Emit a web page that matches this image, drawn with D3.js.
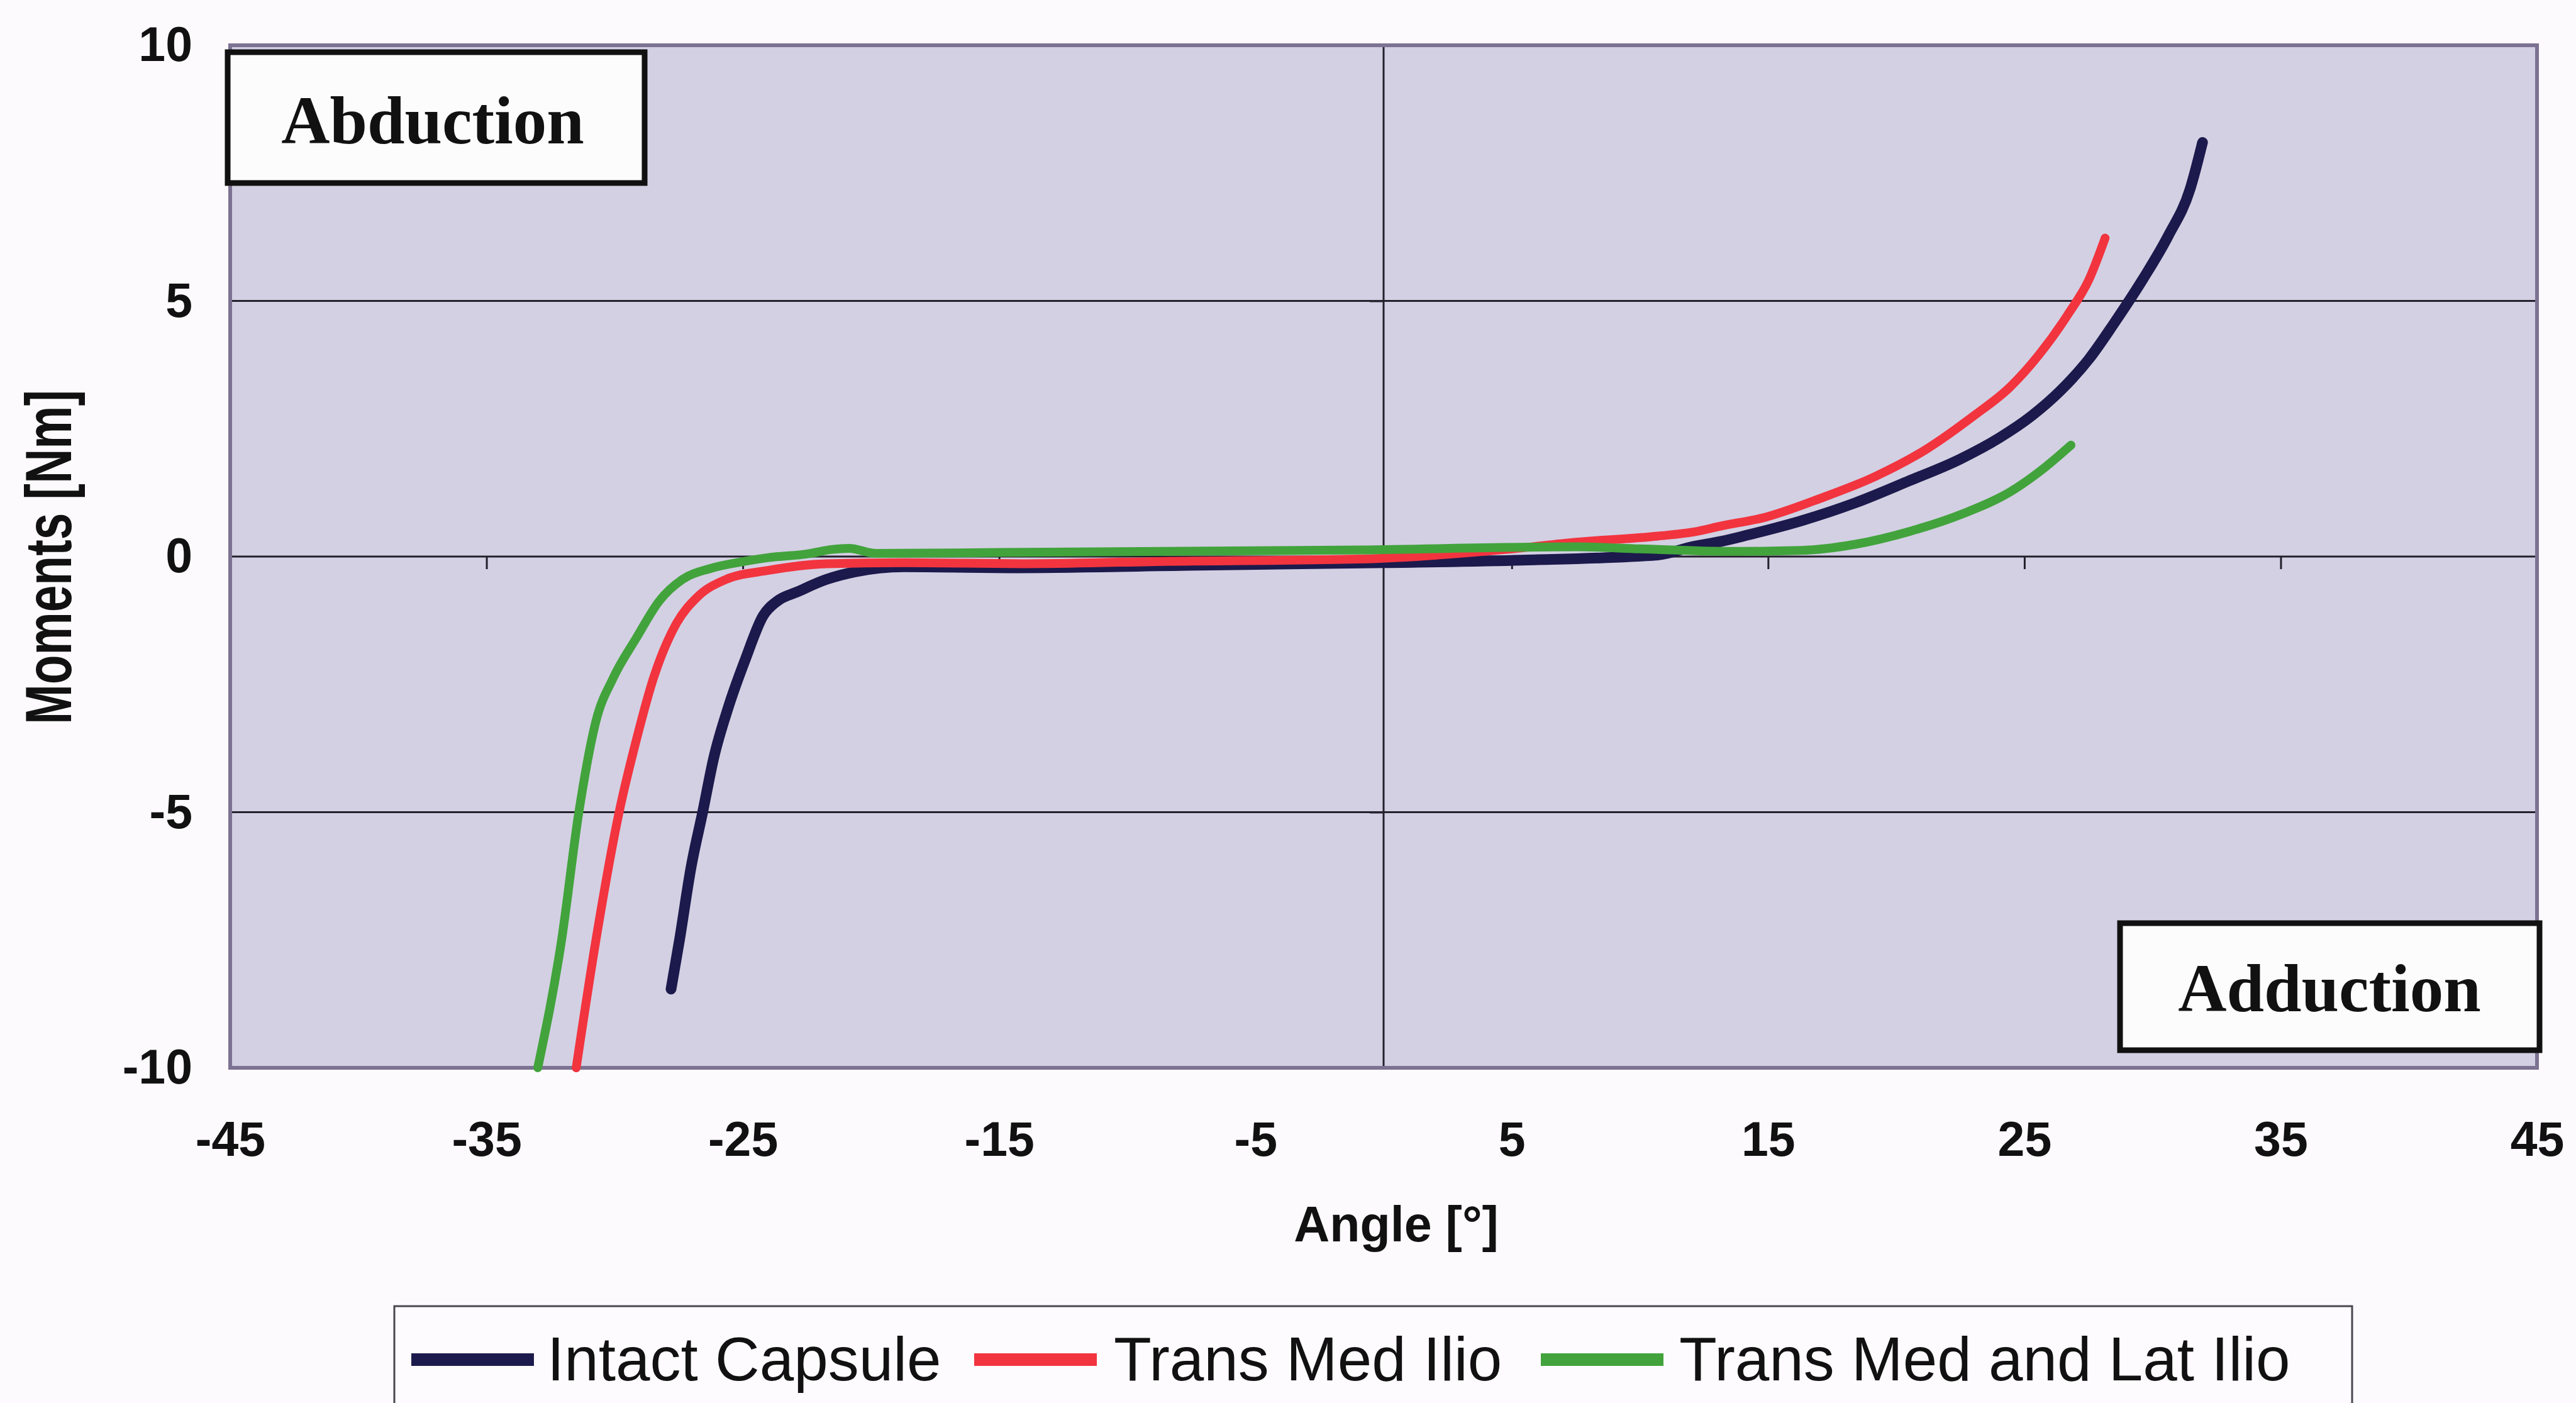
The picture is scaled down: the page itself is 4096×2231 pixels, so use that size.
<!DOCTYPE html>
<html>
<head>
<meta charset="utf-8">
<script src="https://cdn.jsdelivr.net/npm/d3@7"></script>
<style>
  html, body { margin: 0; padding: 0; background: #fcfafc; }
  svg { display: block; }
</style>
</head>
<body>
<svg id="chart" width="4096" height="2231"></svg>
<script>
// Angle [°] vs. moment [Nm] for the three capsule conditions
const intactCapsule = [
  [-27.8, -8.46], [-27.47, -7.5], [-27.02, -6.08], [-26.57, -5.01], [-26.13, -3.93],
  [-25.56, -2.94], [-24.9, -2.01], [-24.21, -1.16], [-23.65, -0.87], [-22.87, -0.69],
  [-21.75, -0.45], [-20.63, -0.3], [-18.7, -0.2], [-14.6, -0.22], [-7.2, -0.17],
  [0, -0.12], [5.4, -0.07], [10.7, 0.03], [12.1, 0.2], [13.2, 0.3], [14.2, 0.42],
  [16.3, 0.7], [18.4, 1.05], [20.5, 1.48], [22.47, 1.9], [24.02, 2.32], [25.28, 2.75],
  [26.4, 3.24], [27.53, 3.87], [28.51, 4.57], [29.63, 5.43], [30.61, 6.27],
  [31.46, 7.18], [31.95, 8.1]
];
const transMedIlio = [
  [-31.5, -10], [-30.73, -7.5], [-29.83, -5.01], [-29.15, -3.58], [-28.48, -2.37],
  [-27.58, -1.3], [-26.79, -0.8], [-25.67, -0.45], [-23.99, -0.27], [-21.75, -0.14],
  [-18.7, -0.12], [-14, -0.14], [-9.1, -0.1], [-1, -0.05], [5, 0.15], [7.5, 0.28],
  [10.7, 0.4], [12.1, 0.48], [13.2, 0.6], [14.9, 0.77], [17.0, 1.13], [19.11, 1.55],
  [21.21, 2.11], [23.02, 2.75], [24.43, 3.31], [25.56, 3.94], [26.68, 4.72],
  [27.53, 5.43], [28.15, 6.23]
];
const transMedLatIlio = [
  [-33.0, -10], [-32.07, -7.5], [-31.4, -5.01], [-30.73, -3.22], [-30.05, -2.37],
  [-29.15, -1.59], [-28.26, -0.87], [-27.36, -0.45], [-26.24, -0.23], [-25, -0.1],
  [-23.99, -0.02], [-22.5, 0.05], [-21.5, 0.14], [-20.85, 0.16], [-19.8, 0.06],
  [-15, 0.08], [-0.9, 0.13], [7.55, 0.19], [10, 0.15], [13.5, 0.1], [16.29, 0.12],
  [18.4, 0.24], [20.51, 0.49], [22.61, 0.84], [24.43, 1.26], [25.84, 1.76], [26.82, 2.18]
];

const seriesNames = ["Intact Capsule", "Trans Med Ilio", "Trans Med and Lat Ilio"];
const seriesColors = ["#1c1a4c", "#f2343f", "#42a33c"];
const seriesWidths = [17, 14, 14];
const seriesData = [intactCapsule, transMedIlio, transMedLatIlio];

const xTicks = [-45, -35, -25, -15, -5, 5, 15, 25, 35, 45];
const yTicks = [-10, -5, 0, 5, 10];
const gridY = [-5, 0, 5];
const gridX = [0];

const plot = { left: 366, right: 4034, top: 72, bottom: 1698 };

const svg = d3.select("#chart");
const x = d3.scaleLinear().domain([-45, 45]).range([plot.left, plot.right]);
const y = d3.scaleLinear().domain([-10, 10]).range([plot.bottom, plot.top]);

const font = "'Liberation Sans', Arial, sans-serif";
const serif = "'Liberation Serif', 'Times New Roman', serif";
// plain hyphen-minus for negative tick values
const plainNumber = d => String(d);

// plot area
svg.append("rect")
  .attr("x", plot.left).attr("y", plot.top)
  .attr("width", plot.right - plot.left).attr("height", plot.bottom - plot.top)
  .attr("fill", "#d3d0e3");

// gridlines
svg.append("g").selectAll("line").data(gridY).join("line")
  .attr("x1", plot.left).attr("x2", plot.right)
  .attr("y1", d => y(d)).attr("y2", d => y(d))
  .attr("stroke", "#24202c").attr("stroke-width", 3);
svg.append("g").selectAll("line").data(gridX).join("line")
  .attr("y1", plot.top).attr("y2", plot.bottom)
  .attr("x1", d => x(d)).attr("x2", d => x(d))
  .attr("stroke", "#24202c").attr("stroke-width", 3);

// tick marks on the zero axes
const xTickAxis = svg.append("g")
  .attr("transform", `translate(0,${y(0)})`)
  .call(d3.axisBottom(x).tickValues(xTicks).tickSize(20).tickFormat(""));
xTickAxis.select(".domain").remove();
xTickAxis.selectAll("line").attr("stroke", "#24202c").attr("stroke-width", 3);

const yTickAxis = svg.append("g")
  .attr("transform", `translate(${x(0)},0)`)
  .call(d3.axisLeft(y).tickValues(yTicks).tickSize(22).tickFormat(""));
yTickAxis.select(".domain").remove();
yTickAxis.selectAll("line").attr("stroke", "#24202c").attr("stroke-width", 3);

// plot border
svg.append("rect")
  .attr("x", plot.left).attr("y", plot.top)
  .attr("width", plot.right - plot.left).attr("height", plot.bottom - plot.top)
  .attr("fill", "none").attr("stroke", "#7c7292").attr("stroke-width", 6);

// curves
const line = d3.line().x(d => x(d[0])).y(d => y(d[1])).curve(d3.curveMonotoneX);
svg.append("g").selectAll("path").data(seriesData).join("path")
  .attr("d", line)
  .attr("fill", "none")
  .attr("stroke", (d, i) => seriesColors[i])
  .attr("stroke-width", (d, i) => seriesWidths[i])
  .attr("stroke-linejoin", "round")
  .attr("stroke-linecap", "round");

// tick labels
const xLabelAxis = svg.append("g")
  .attr("transform", `translate(0,${plot.bottom})`)
  .call(d3.axisBottom(x).tickValues(xTicks).tickSize(0).tickPadding(85).tickFormat(plainNumber));
xLabelAxis.select(".domain").remove();
xLabelAxis.selectAll("text")
  .attr("font-family", font).attr("font-size", 77).attr("font-weight", "bold").attr("fill", "#111");

const yLabelAxis = svg.append("g")
  .attr("transform", `translate(${plot.left},0)`)
  .call(d3.axisLeft(y).tickValues(yTicks).tickSize(0).tickPadding(60).tickFormat(plainNumber));
yLabelAxis.select(".domain").remove();
yLabelAxis.selectAll("text")
  .attr("font-family", font).attr("font-size", 77).attr("font-weight", "bold").attr("fill", "#111");

// axis titles
svg.append("text")
  .attr("x", 2220).attr("y", 1974)
  .attr("text-anchor", "middle")
  .attr("font-family", font).attr("font-size", 79).attr("font-weight", "bold").attr("fill", "#111")
  .text("Angle [°]");

svg.append("text")
  .attr("transform", "translate(113,886) rotate(-90)")
  .attr("text-anchor", "middle")
  .attr("font-family", font).attr("font-size", 103).attr("font-weight", "bold").attr("fill", "#111")
  .attr("textLength", 532).attr("lengthAdjust", "spacingAndGlyphs")
  .text("Moments [Nm]");

// direction labels
const notes = [
  { text: "Abduction", x0: 362, y0: 83, x1: 1025, y1: 291, tx: 688, ty: 228 },
  { text: "Adduction", x0: 3371, y0: 1468, x1: 4038, y1: 1670, tx: 3704, ty: 1608 }
];
const noteG = svg.append("g").selectAll("g").data(notes).join("g");
noteG.append("rect")
  .attr("x", d => d.x0).attr("y", d => d.y0)
  .attr("width", d => d.x1 - d.x0).attr("height", d => d.y1 - d.y0)
  .attr("fill", "#fdfcfd").attr("stroke", "#111").attr("stroke-width", 9);
noteG.append("text")
  .attr("x", d => d.tx).attr("y", d => d.ty)
  .attr("text-anchor", "middle")
  .attr("font-family", serif).attr("font-size", 107).attr("font-weight", "bold").attr("fill", "#111")
  .text(d => d.text);

// legend
const legend = svg.append("g");
legend.append("rect")
  .attr("x", 627).attr("y", 2077).attr("width", 3113).attr("height", 200)
  .attr("fill", "#fdfbfd").attr("stroke", "#4a4650").attr("stroke-width", 3);
const legendSwatchX = [654, 1549, 2450];
const legendTextX = [870, 1771, 2670];
const legendItems = legend.selectAll("g.item").data(seriesNames).join("g").attr("class", "item");
legendItems.append("line")
  .attr("x1", (d, i) => legendSwatchX[i]).attr("x2", (d, i) => legendSwatchX[i] + 195)
  .attr("y1", 2162).attr("y2", 2162)
  .attr("stroke", (d, i) => seriesColors[i]).attr("stroke-width", 20);
legendItems.append("text")
  .attr("x", (d, i) => legendTextX[i]).attr("y", 2195)
  .attr("font-family", font).attr("font-size", 98).attr("fill", "#111")
  .text(d => d);
</script>
</body>
</html>
